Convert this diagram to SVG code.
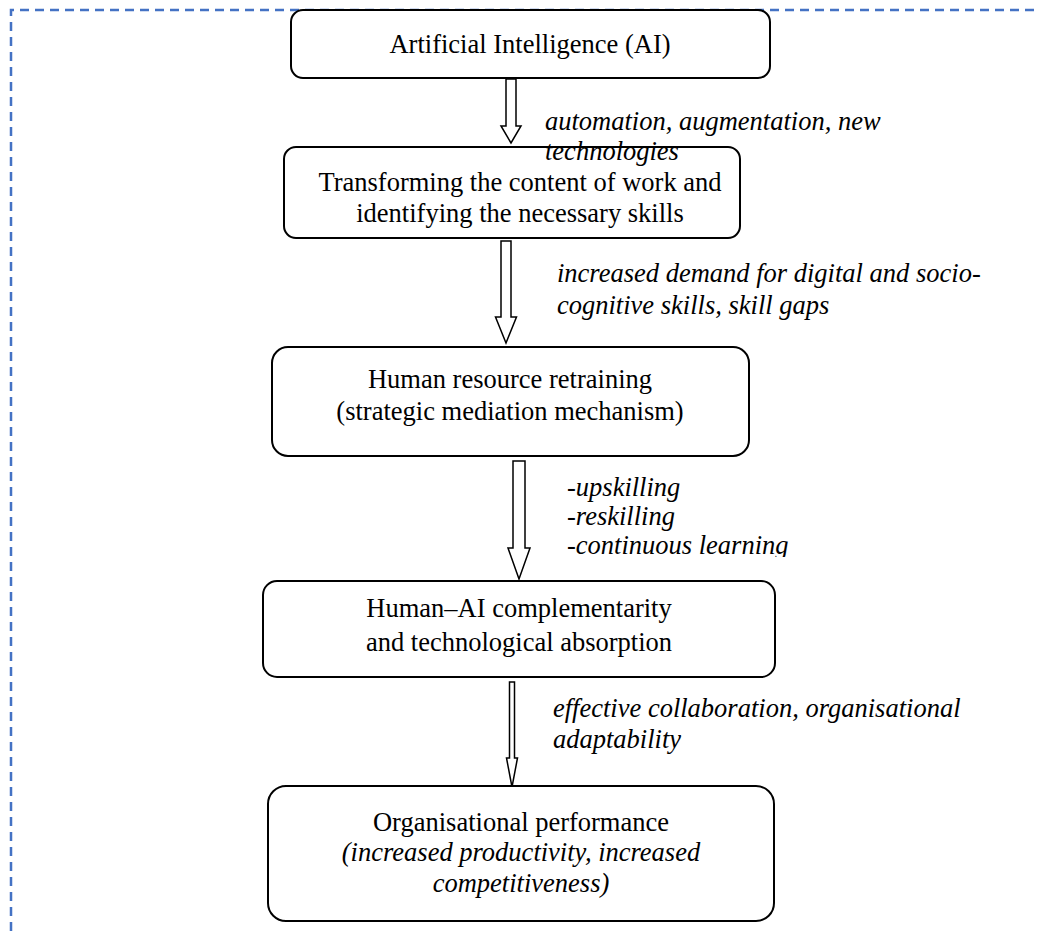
<svg xmlns="http://www.w3.org/2000/svg" width="1038" height="931" viewBox="0 0 1038 931">
<style>
.box{fill:#fff;stroke:#000;stroke-width:2}
.arr{fill:#fff;stroke:#000;stroke-width:1.5;stroke-linejoin:miter}
.t{font-family:"Liberation Serif","Times New Roman",serif;font-size:26.5px;fill:#000}
.c{text-anchor:middle}
.i{font-style:italic}
</style>
<defs>
<clipPath id="clip3"><rect x="540" y="465" width="320" height="92"/></clipPath>
</defs>
<rect width="1038" height="931" fill="#fff"/>
<path d="M11,931 V10 H1038" fill="none" stroke="#4472C4" stroke-width="2.5" stroke-dasharray="9 6"/>
<g id="connectors">
<polygon class="arr" points="506,79 516,79 516,126 521,126 511,143 501,126 506,126"/>
<polygon class="arr" points="501,241 511,241 511,317 516.5,317 506,343 495.5,317 501,317"/>
<polygon class="arr" points="513,461 525,461 525,548 530,548 519,579 508,548 513,548"/>
<polygon class="arr" points="509.5,682 514.5,682 514.5,758 517.5,758 512,787 506.5,758 509.5,758"/>
</g>
<g id="node-ai">
<rect class="box" x="291" y="10" width="479" height="68" rx="12"/>
<text class="t c" x="530" y="53">Artificial Intelligence (AI)</text>
</g>
<g id="label-1">
<text class="t i" x="545" y="130">automation, augmentation, new</text>
</g>
<g id="node-transform">
<rect class="box" x="284" y="147" width="456" height="91" rx="12"/>
<text class="t c" x="520" y="191">Transforming the content of work and</text>
<text class="t c" x="520" y="222">identifying the necessary skills</text>
</g>
<text class="t i" x="545" y="160">technologies</text>
<g id="label-2">
<text class="t i" x="557" y="282">increased demand for digital and socio-</text>
<text class="t i" x="557" y="314">cognitive skills, skill gaps</text>
</g>
<g id="node-retraining">
<rect class="box" x="272" y="347" width="477" height="109" rx="16"/>
<text class="t c" x="510" y="388">Human resource retraining</text>
<text class="t c" x="510" y="420">(strategic mediation mechanism)</text>
</g>
<g id="label-3" clip-path="url(#clip3)">
<text class="t i" x="567" y="496">-upskilling</text>
<text class="t i" x="567" y="525">-reskilling</text>
<text class="t i" x="567" y="554">-continuous learning</text>
</g>
<g id="node-complementarity">
<rect class="box" x="263" y="581" width="512" height="96" rx="14"/>
<text class="t c" x="519" y="617">Human–AI complementarity</text>
<text class="t c" x="519" y="651">and technological absorption</text>
</g>
<g id="label-4">
<text class="t i" x="553" y="717">effective collaboration, organisational</text>
<text class="t i" x="553" y="748">adaptability</text>
</g>
<g id="node-performance">
<rect class="box" x="268" y="786" width="506" height="135" rx="18"/>
<text class="t c" x="521" y="831">Organisational performance</text>
<text class="t c i" x="521" y="861">(increased productivity, increased</text>
<text class="t c i" x="521" y="892">competitiveness)</text>
</g>
</svg>
